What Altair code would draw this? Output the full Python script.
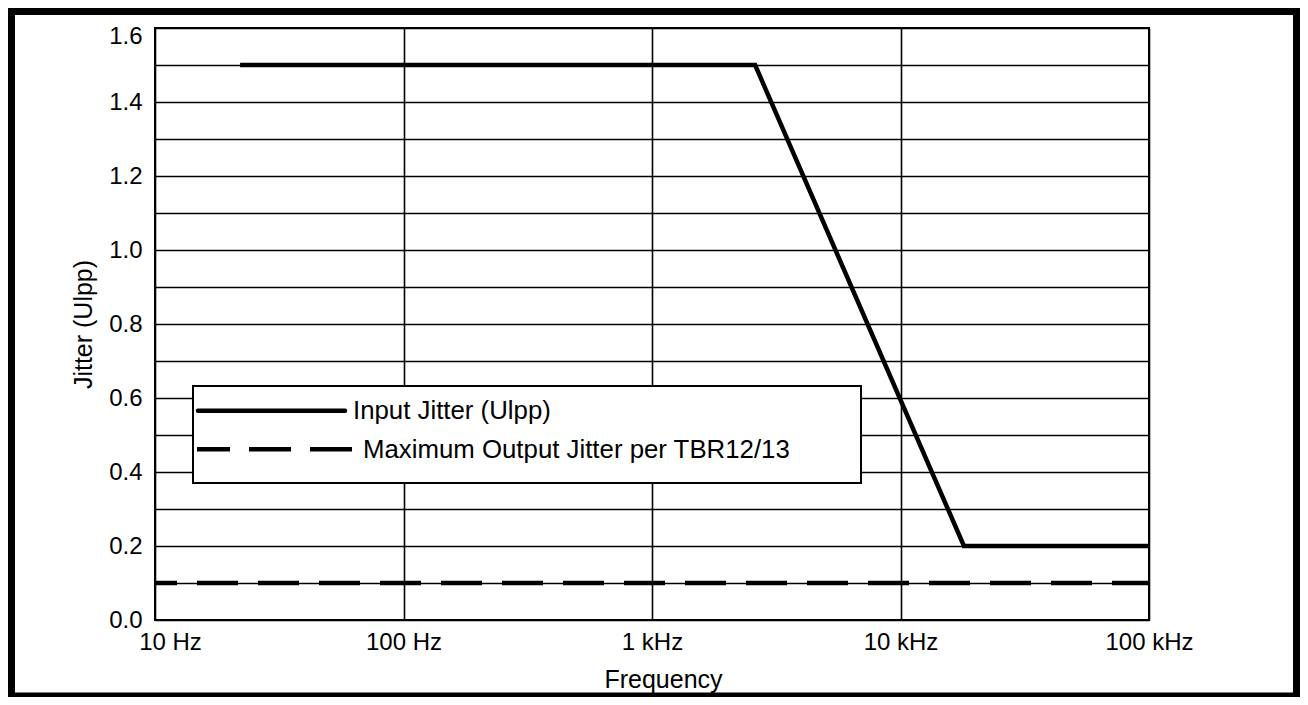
import altair as alt
import pandas as pd

# ---- data ----
x_ticks = [10, 100, 1000, 10000, 100000]
x_tick_labels = ["10 Hz", "100 Hz", "1 kHz", "10 kHz", "100 kHz"]
y_ticks = [0.0, 0.1, 0.2, 0.3, 0.4, 0.5, 0.6, 0.7, 0.8, 0.9, 1.0,
           1.1, 1.2, 1.3, 1.4, 1.5, 1.6]

series_names = ["Input Jitter (Ulpp)", "Maximum Output Jitter per TBR12/13"]
input_freq = [22, 2600, 18000, 100000]
input_jitter = [1.5, 1.5, 0.2, 0.2]
output_freq = [10, 100000]
output_jitter = [0.1, 0.1]

FONT = "Liberation Sans"

df_in = pd.DataFrame({"freq": input_freq, "jitter": input_jitter,
                      "series": series_names[0]})
df_out = pd.DataFrame({"freq": output_freq, "jitter": output_jitter,
                       "series": series_names[1]})
one = pd.DataFrame({"k": [0]})

label_arr = "[" + ",".join("'%s'" % s for s in x_tick_labels) + "]"
x_label_expr = label_arr + "[round(log(datum.value)/LN10) - 1]"

x_enc = alt.X(
    "freq:Q",
    scale=alt.Scale(type="log", domain=[x_ticks[0], x_ticks[-1]], nice=False),
    axis=alt.Axis(
        values=x_ticks, labelExpr=x_label_expr, ticks=False, domain=False,
        grid=True, gridColor="black", gridWidth=1.6, gridOpacity=1,
        labelFont=FONT, labelFontSize=24, labelColor="black", labelPadding=10,
        labelOverlap=False, labelBound=False, labelFlush=False,
        labelOffset={"condition": {"test": "datum.value < 11", "value": 15}, "value": 0},
        title="Frequency", titleFont=FONT, titleFontSize=25,
        titleFontWeight="normal", titleColor="black", titlePadding=13,
        titleX=508,
    ),
)
y_enc = alt.Y(
    "jitter:Q",
    scale=alt.Scale(domain=[y_ticks[0], y_ticks[-1]], nice=False),
    axis=alt.Axis(
        values=y_ticks,
        labelExpr="round(datum.value*10) % 2 == 0 ? format(datum.value, '.1f') : ''",
        ticks=False, domain=False,
        grid=True, gridColor="black", gridWidth=1.6, gridOpacity=1,
        labelFont=FONT, labelFontSize=24, labelColor="black", labelPadding=13,
        labelOverlap=False, labelBound=False, labelFlush=False,
        labelOffset={"condition": {"test": "datum.value > 1.55", "value": 8}, "value": 0},
        title="Jitter (Ulpp)", titleFont=FONT, titleFontSize=25,
        titleFontWeight="normal", titleColor="black", titlePadding=12,
    ),
)

line_in = alt.Chart(df_in).mark_line(
    color="black", strokeWidth=4.5, strokeJoin="miter", strokeCap="butt"
).encode(x=x_enc, y=y_enc)

line_out = alt.Chart(df_out).mark_line(
    color="black", strokeWidth=4.5, strokeDash=[41, 20], strokeDashOffset=19,
    strokeCap="butt"
).encode(x=x_enc, y=y_enc)

# legend (custom box inside plot)
legend_box = alt.Chart(one).mark_rect(
    fill="white", stroke="black", strokeWidth=2
).encode(x=alt.value(38), x2=alt.value(706), y=alt.value(358), y2=alt.value(455))

leg_solid = alt.Chart(one).mark_rule(
    color="black", strokeWidth=4.5, strokeCap="round"
).encode(x=alt.value(43), x2=alt.value(190), y=alt.value(382.7))

leg_dash = alt.Chart(one).mark_rule(
    color="black", strokeWidth=4.5, strokeDash=[42, 19], strokeDashOffset=9,
    strokeCap="butt"
).encode(x=alt.value(42), x2=alt.value(197), y=alt.value(421.3))

leg_text1 = alt.Chart(pd.DataFrame({"t": [series_names[0]]})).mark_text(
    align="left", baseline="middle", font=FONT, fontSize=25.8, color="black"
).encode(x=alt.value(198), y=alt.value(383), text="t:N")

leg_text2 = alt.Chart(pd.DataFrame({"t": [series_names[1]]})).mark_text(
    align="left", baseline="middle", font=FONT, fontSize=25.8, color="black"
).encode(x=alt.value(208), y=alt.value(422), text="t:N")

# outer frame
frame = alt.Chart(one).mark_rect(
    fill="transparent", stroke="black", strokeWidth=7
).encode(x=alt.value(-143.5), x2=alt.value(1141.5), y=alt.value(-16.5), y2=alt.value(668))

chart = alt.layer(
    line_in, line_out, legend_box, leg_solid, leg_dash, leg_text1, leg_text2, frame
).properties(
    width=994, height=592,
    autosize=alt.AutoSizeParams(type="none"),
    padding={"left": 147, "top": 20, "right": 151, "bottom": 77},
    background="white",
).configure_view(stroke="black", strokeWidth=2)

chart.save("out.html", embed_options={"renderer": "svg", "actions": False})
